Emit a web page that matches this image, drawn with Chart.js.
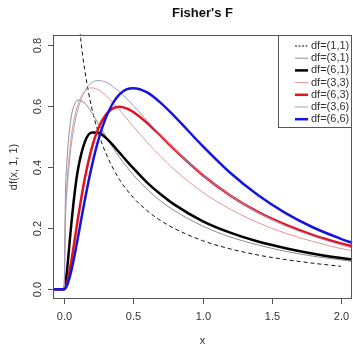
<!DOCTYPE html>
<html>
<head>
<meta charset="utf-8">
<script src="https://cdn.jsdelivr.net/npm/chart.js@4"></script>
<style>
  body { margin: 0; background: #fff; }
  canvas { display: block; }
</style>
</head>
<body>
<canvas id="canvas" width="353" height="349"></canvas>
<script>
  // x grid shared by the six curves that run across the whole plot
  var xGrid = [-0.08, 0, 0.01, 0.02, 0.05, 0.075, 0.1, 0.15, 0.2, 0.25, 0.3, 0.35, 0.4, 0.45, 0.5, 0.6, 0.7, 0.8, 1.0, 1.2, 1.4, 1.6, 1.8, 2.0, 2.08];
  var f31 = [0, 0, 0.312, 0.416, 0.559, 0.604, 0.619, 0.609, 0.578, 0.540, 0.502, 0.466, 0.432, 0.402, 0.374, 0.327, 0.288, 0.256, 0.207, 0.171, 0.145, 0.124, 0.108, 0.096, 0.091];
  var f61 = [0, 0, 0.017, 0.055, 0.202, 0.310, 0.391, 0.482, 0.513, 0.512, 0.496, 0.473, 0.447, 0.421, 0.396, 0.349, 0.310, 0.276, 0.223, 0.185, 0.156, 0.134, 0.116, 0.102, 0.097];
  var f33 = [0, 0, 0.247, 0.339, 0.492, 0.561, 0.605, 0.648, 0.659, 0.652, 0.635, 0.612, 0.587, 0.560, 0.533, 0.481, 0.434, 0.390, 0.318, 0.262, 0.218, 0.183, 0.156, 0.133, 0.126];
  var f63 = [0, 0, 0.005, 0.018, 0.086, 0.157, 0.231, 0.363, 0.462, 0.529, 0.570, 0.591, 0.597, 0.592, 0.580, 0.544, 0.501, 0.456, 0.374, 0.307, 0.253, 0.211, 0.177, 0.150, 0.141];
  var f36 = [0, 0, 0.227, 0.314, 0.464, 0.539, 0.589, 0.649, 0.676, 0.683, 0.678, 0.664, 0.646, 0.625, 0.601, 0.552, 0.503, 0.457, 0.374, 0.307, 0.252, 0.208, 0.173, 0.145, 0.135];
  var f66 = [0, 0, 0.003, 0.011, 0.056, 0.109, 0.169, 0.292, 0.402, 0.492, 0.559, 0.607, 0.638, 0.654, 0.658, 0.644, 0.609, 0.565, 0.469, 0.381, 0.308, 0.249, 0.202, 0.165, 0.152];

  // df=(1,1) only drawn from 0 to 2 (goes off the top near 0)
  var x11 = [0.1, 0.12, 0.15, 0.2, 0.25, 0.3, 0.4, 0.5, 0.6, 0.7, 0.8, 1.0, 1.2, 1.4, 1.6, 1.8, 2.0];
  var f11 = [0.915, 0.820, 0.715, 0.593, 0.509, 0.447, 0.359, 0.300, 0.257, 0.224, 0.198, 0.159, 0.132, 0.112, 0.097, 0.085, 0.075];

  var xTicks = [0, 0.5, 1, 1.5, 2];
  var xTickLabels = ['0.0', '0.5', '1.0', '1.5', '2.0'];
  var yTicks = [0, 0.2, 0.4, 0.6, 0.8];
  var yTickLabels = ['0.0', '0.2', '0.4', '0.6', '0.8'];
  var legendLabels = ['df=(1,1)', 'df=(3,1)', 'df=(6,1)', 'df=(3,3)', 'df=(6,3)', 'df=(3,6)', 'df=(6,6)'];

  const FONT = '"Liberation Sans", Arial, sans-serif';

  // legend styles, same order as legendLabels
  var styles = [
    {color: '#111111', width: 1, dash: [4, 3]},
    {color: '#8c8c8c', width: 1, dash: []},
    {color: '#000000', width: 2.5, dash: []},
    {color: '#e39696', width: 1, dash: []},
    {color: '#e3121c', width: 2.5, dash: []},
    {color: '#9c9cc8', width: 1, dash: []},
    {color: '#1414dc', width: 2.5, dash: []}
  ];

  function pts(xs, ys) {
    return xs.map(function(x, i) { return {x: x, y: ys[i]}; });
  }

  var series = [pts(x11, f11), pts(xGrid, f31), pts(xGrid, f61), pts(xGrid, f33), pts(xGrid, f63), pts(xGrid, f36), pts(xGrid, f66)];

  var sets = [];
  // reversed so that df=(6,6) ends up on top, as in R
  for (var i = series.length - 1; i >= 0; i--) {
    sets.push({
      label: legendLabels[i],
      data: series[i],
      showLine: true,
      pointRadius: 0,
      borderColor: styles[i].color,
      borderWidth: styles[i].width,
      borderDash: styles[i].dash,
      cubicInterpolationMode: 'monotone',
      clip: 1
    });
  }

  // R-style box, axes, titles and legend
  const rPlot = {
    id: 'rPlot',
    afterDraw(chart) {
      const c = chart.ctx, a = chart.chartArea;
      const xs = chart.scales.x, ys = chart.scales.y;
      c.save();
      c.strokeStyle = '#555';
      c.lineWidth = 1;
      c.setLineDash([]);
      c.strokeRect(a.left + 0.5, a.top + 0.5, a.right - a.left - 1, a.bottom - a.top - 1);

      c.fillStyle = '#333';
      c.font = '11px ' + FONT;
      c.textAlign = 'center';
      c.textBaseline = 'middle';
      xTicks.forEach(function(v, k) {
        var px = Math.round(xs.getPixelForValue(v)) + 0.5;
        c.beginPath(); c.moveTo(px, a.bottom); c.lineTo(px, a.bottom + 5); c.stroke();
        c.fillText(xTickLabels[k], px, 317);
      });
      yTicks.forEach(function(v, k) {
        var py = Math.round(ys.getPixelForValue(v)) + 0.5;
        c.beginPath(); c.moveTo(a.left, py); c.lineTo(a.left - 5, py); c.stroke();
        c.save();
        c.translate(38, py);
        c.rotate(-Math.PI / 2);
        c.fillText(yTickLabels[k], 0, 0);
        c.restore();
      });

      c.fillText('x', (a.left + a.right) / 2, 341);
      c.save();
      c.translate(14, (a.top + a.bottom) / 2);
      c.rotate(-Math.PI / 2);
      c.fillText('df(x, 1, 1)', 0, 0);
      c.restore();

      c.fillStyle = '#111';
      c.font = 'bold 13px ' + FONT;
      c.fillText("Fisher's F", (a.left + a.right) / 2, 13);

      // legend
      var lx = 278.5, ly = a.top + 0.5, lw = a.right - 0.5 - lx, lh = 92;
      c.fillStyle = '#fff';
      c.fillRect(lx, ly, lw, lh);
      c.strokeStyle = '#555';
      c.strokeRect(lx, ly, lw, lh);
      c.font = '11px ' + FONT;
      c.textAlign = 'left';
      legendLabels.forEach(function(t, k) {
        var yy = 46 + k * 12.2;
        c.strokeStyle = styles[k].color;
        c.lineWidth = styles[k].width;
        c.setLineDash(styles[k].dash.length ? [2, 1.5] : []);
        c.beginPath(); c.moveTo(295, yy); c.lineTo(308, yy); c.stroke();
        c.fillStyle = '#333';
        c.fillText(t, 311, yy);
      });
      c.restore();
    }
  };

  const ctx = document.getElementById('canvas').getContext('2d');
  var chart = new Chart(ctx, {
    type: 'scatter',
    data: {datasets: sets},
    options: {
      responsive: false,
      devicePixelRatio: 1,
      animation: false,
      layout: {padding: {left: 53, top: 35, right: 1, bottom: 50}},
      plugins: {legend: {display: false}, tooltip: {enabled: false}},
      scales: {
        x: {type: 'linear', min: -0.08, max: 2.08, display: false},
        y: {type: 'linear', min: -0.032, max: 0.832, display: false}
      }
    },
    plugins: [rPlot]
  });
</script>
</body>
</html>
